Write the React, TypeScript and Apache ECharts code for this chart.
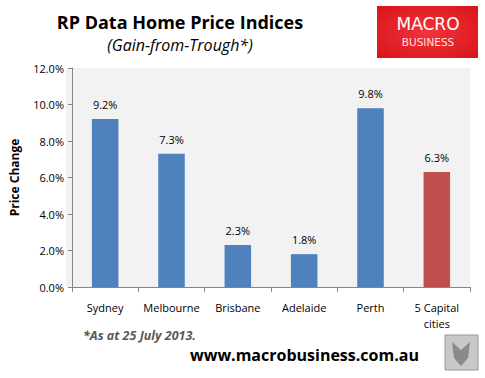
import React, { useEffect, useRef } from "react";
import * as echarts from "echarts";

const categories = ["Sydney", "Melbourne", "Brisbane", "Adelaide", "Perth", "5 Capital\ncities"];
const values = [9.2, 7.3, 2.3, 1.8, 9.8, 6.3];
const barColors = ["#4F81BD", "#4F81BD", "#4F81BD", "#4F81BD", "#4F81BD", "#C0504D"];

const FONT = "'Open Sans', 'DejaVu Sans', sans-serif";

export default function App() {
  const ref = useRef<HTMLDivElement>(null);
  useEffect(() => {
    if (!ref.current) return;
    const chart = echarts.init(ref.current, undefined, { renderer: "svg" });
    chart.setOption({
      animation: false,
      backgroundColor: "#ffffff",
      textStyle: { fontFamily: FONT },
      grid: { left: 66, right: 15, top: 68, bottom: 91, containLabel: false },
      xAxis: {
        type: "category",
        data: categories,
        axisLine: { show: true, lineStyle: { color: "#868686", width: 1 } },
        axisTick: { show: true, alignWithLabel: false, interval: 0, length: 5, lineStyle: { color: "#868686" } },
        axisLabel: { color: "#000", fontSize: 11, fontFamily: FONT, margin: 12, lineHeight: 16, interval: 0 },
      },
      yAxis: {
        type: "value",
        min: 0,
        max: 12,
        interval: 2,
        name: "Price Change",
        nameLocation: "middle",
        nameGap: 52,
        nameTextStyle: { color: "#000", fontSize: 12, fontWeight: "bold", fontFamily: FONT },
        axisLine: { show: true, lineStyle: { color: "#868686", width: 1 } },
        axisTick: { show: true, length: 4, lineStyle: { color: "#868686" } },
        splitLine: { show: false },
        axisLabel: { color: "#000", fontSize: 11, fontFamily: FONT, margin: 8, formatter: (v: number) => v.toFixed(1) + "%" },
      },
      series: [
        {
          type: "bar",
          barWidth: "40%",
          data: values.map((v, i) => ({ value: v, itemStyle: { color: barColors[i] } })),
          label: {
            show: true,
            position: "top",
            distance: 9,
            color: "#000",
            fontSize: 11,
            fontFamily: FONT,
            formatter: (p: any) => p.value.toFixed(1) + "%",
          },
        },
      ],
      graphic: [
        { type: "rect", z: -10, shape: { x: 66, y: 68, width: 404, height: 219 }, style: { fill: "#F2F2F2" }, silent: true },
        {
          type: "text", x: 180, y: 22,
          style: { text: "RP Data Home Price Indices", fill: "#000", font: `bold 18px ${FONT}`, align: "center", verticalAlign: "middle" },
        },
        {
          type: "text", x: 180, y: 45,
          style: { text: "(Gain-from-Trough*)", fill: "#000", font: `italic 16px ${FONT}`, align: "center", verticalAlign: "middle" },
        },
        {
          type: "rect", shape: { x: 377, y: 6, width: 101, height: 52 },
          style: {
            fill: new echarts.graphic.RadialGradient(0.5, 0.5, 0.7, [
              { offset: 0, color: "#F0343A" },
              { offset: 1, color: "#D9141B" },
            ]),
          },
        },
        {
          type: "text", x: 428, y: 24, style: { text: "MACRO", fill: "#fff", font: `17px 'DejaVu Sans', sans-serif`, align: "center", verticalAlign: "middle" },
        },
        {
          type: "text", x: 428, y: 42, style: { text: "BUSINESS", fill: "#fbe0e0", font: `10.5px 'DejaVu Sans', sans-serif`, align: "center", verticalAlign: "middle" },
        },
        {
          type: "text", x: 83, y: 335,
          style: { text: "*As at 25 July 2013.", fill: "#595959", font: `italic bold 12.5px ${FONT}`, verticalAlign: "middle" },
        },
        {
          type: "text", x: 190, y: 355,
          style: { text: "www.macrobusiness.com.au", fill: "#000", font: `bold 16px ${FONT}`, verticalAlign: "middle" },
        },
        {
          type: "rect", shape: { x: 445, y: 335, width: 33, height: 35 },
          style: { fill: "#c8c8c8", stroke: "#999", lineWidth: 1 },
        },
        {
          type: "polygon", shape: { points: [[452, 342], [461, 350], [470, 342], [468, 358], [461, 366], [454, 358]] },
          style: { fill: "#8a8a8a" },
        },
      ],
    });
    return () => chart.dispose();
  }, []);
  return <div ref={ref} style={{ width: 485, height: 378, position: "absolute", left: 0, top: 0 }} />;
}
